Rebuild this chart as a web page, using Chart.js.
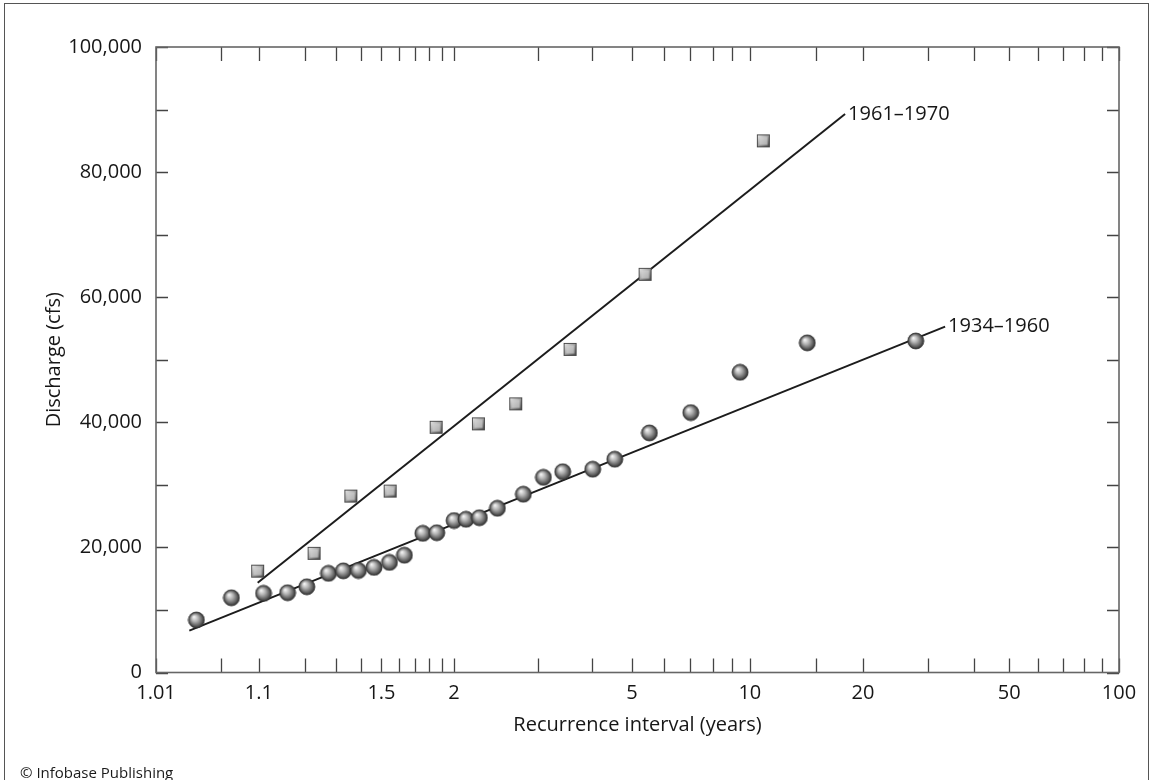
<!DOCTYPE html>
<html><head><meta charset="utf-8">
<script src="https://cdn.jsdelivr.net/npm/chart.js@4.4.1/dist/chart.umd.min.js"></script>
<style>
html,body{margin:0;padding:0;background:#fff;}
#wrap{position:relative;width:1153px;height:780px;overflow:hidden;background:#fff;}
#frame{position:absolute;left:4px;top:3px;width:1145px;height:820px;border:1.5px solid #555;box-sizing:border-box;}
canvas{position:absolute;left:0;top:0;}
#credit{position:absolute;left:20px;top:762px;font:15px 'Open Sans',sans-serif;color:#1a1a1a;line-height:20px;white-space:nowrap;}
</style></head><body>
<div id="wrap"><div id="frame"></div><canvas id="c" width="1153" height="780"></canvas><div id="credit">© Infobase Publishing</div></div>
<script>
// ---- data (recurrence interval in years, discharge in cfs) ----
const xTickYears  = [1.01, 1.1, 1.5, 2, 5, 10, 20, 50, 100];
const xTickLabels = ['1.01', '1.1', '1.5', '2', '5', '10', '20', '50', '100'];
const xMinorYears = [1.05, 1.2, 1.3, 1.4, 1.6, 1.7, 1.8, 1.9, 3, 4, 6, 7, 8, 9, 15, 30, 40, 60, 70, 80, 90];
const yTickValues = [0, 20000, 40000, 60000, 80000, 100000];
const yTickLabels = ['0', '20,000', '40,000', '60,000', '80,000', '100,000'];
const yMinorValues = [10000, 30000, 50000, 70000, 90000];

const years1934 = [1.029, 1.061, 1.108, 1.157, 1.206, 1.273, 1.327, 1.389, 1.462, 1.543, 1.631, 1.754, 1.858, 2.002, 2.112, 2.246, 2.447, 2.782, 3.084, 3.414, 4.016, 4.539, 5.525, 7.03, 9.43, 14.19, 27.8];
const flow1934  = [8400, 11950, 12650, 12750, 13700, 15850, 16250, 16300, 16800, 17600, 18750, 22250, 22350, 24300, 24500, 24750, 26250, 28500, 31200, 32100, 32500, 34100, 38300, 41550, 48000, 52700, 53000];

const years1961 = [1.098, 1.227, 1.357, 1.547, 1.853, 2.236, 2.678, 3.551, 5.39, 10.85];
const flow1961  = [16200, 19050, 28200, 29000, 39200, 39750, 42950, 51650, 63650, 85000];

const fitYears1961 = [1.098, 17.91];
const fitFlow1961  = [14350, 89300];
const fitYears1934 = [1.0245, 33.4];
const fitFlow1934  = [6700, 55300];
const fitLabels = ['1961–1970', '1934–1960'];

const xTitle = 'Recurrence interval (years)';
const yTitle = 'Discharge (cfs)';

// Gumbel (extreme value) probability axis
const gumbel = T => -Math.log(-Math.log(1 - 1 / T));
const pts = (xs, ys) => xs.map((t, i) => ({x: gumbel(t), y: ys[i]}));

// ---- marker images ----
function sphere(d){
  const s = d + 2, c = document.createElement('canvas'); c.width = s; c.height = s;
  const g = c.getContext('2d'), r = d / 2, cx = s / 2, cy = s / 2;
  const grad = g.createRadialGradient(cx - r*0.32, cy - r*0.38, r*0.05, cx, cy, r);
  grad.addColorStop(0, '#f4f4f4'); grad.addColorStop(0.4, '#b0b0b0');
  grad.addColorStop(0.8, '#5c5c5c'); grad.addColorStop(1, '#2a2a2a');
  g.fillStyle = grad; g.beginPath(); g.arc(cx, cy, r, 0, Math.PI*2); g.fill();
  g.lineWidth = 0.8; g.strokeStyle = '#333'; g.stroke();
  return c;
}
function cube(d){
  const s = d + 2, c = document.createElement('canvas'); c.width = s; c.height = s;
  const g = c.getContext('2d'), o = 1;
  const lg = g.createLinearGradient(o, o, o + d, o + d);
  lg.addColorStop(0, '#f2f2f2'); lg.addColorStop(0.5, '#9a9a9a'); lg.addColorStop(1, '#3e3e3e');
  g.fillStyle = lg; g.fillRect(o, o, d, d);
  const i = 2.4, lg2 = g.createLinearGradient(o+i, o+i, o+d-i, o+d-i);
  lg2.addColorStop(0, '#d6d6d6'); lg2.addColorStop(1, '#aeaeae');
  g.fillStyle = lg2; g.fillRect(o+i, o+i, d-2*i, d-2*i);
  g.strokeStyle = '#444'; g.lineWidth = 0.9; g.strokeRect(o+0.45, o+0.45, d-0.9, d-0.9);
  return c;
}
const ballImg = sphere(16), boxImg = cube(13);

const FONT = "'Open Sans', sans-serif";
const INK = '#161616';
Chart.defaults.font.family = FONT;
Chart.defaults.color = INK;

const frameTicks = {
  id: 'frameTicks',
  beforeDatasetsDraw(chart){
    const {ctx, chartArea: a, scales: {x, y}} = chart;
    ctx.save();
    ctx.strokeStyle = '#444'; ctx.lineWidth = 1.3;
    ctx.beginPath();
    xTickYears.concat(xMinorYears).forEach(T => {
      const px = Math.round(x.getPixelForValue(gumbel(T))) + 0.5;
      ctx.moveTo(px, a.bottom); ctx.lineTo(px, a.bottom - 14);
      ctx.moveTo(px, a.top); ctx.lineTo(px, a.top + 14);
    });
    yTickValues.concat(yMinorValues).forEach(v => {
      const py = Math.round(y.getPixelForValue(v)) + 0.5;
      ctx.moveTo(a.left, py); ctx.lineTo(a.left + 12, py);
      ctx.moveTo(a.right, py); ctx.lineTo(a.right - 12, py);
    });
    ctx.stroke();
    ctx.strokeStyle = '#666'; ctx.lineWidth = 1.6;
    ctx.strokeRect(a.left, a.top, a.right - a.left, a.bottom - a.top);
    ctx.restore();
  },
  afterDatasetsDraw(chart){
    const {ctx, scales: {x, y}} = chart;
    ctx.save();
    ctx.font = '20px ' + FONT; ctx.fillStyle = INK;
    ctx.textAlign = 'left'; ctx.textBaseline = 'middle';
    [[fitYears1961, fitFlow1961], [fitYears1934, fitFlow1934]].forEach(([ty, tq], k) => {
      const n = ty.length - 1;
      ctx.fillText(fitLabels[k], x.getPixelForValue(gumbel(ty[n])) + 3, y.getPixelForValue(tq[n]));
    });
    ctx.restore();
  }
};

new Chart(document.getElementById('c'), {
  type: 'scatter',
  data: {
    datasets: [
      {label: '1961–1970', data: pts(years1961, flow1961), pointStyle: boxImg, pointRadius: 7, order: 0},
      {label: '1934–1960', data: pts(years1934, flow1934), pointStyle: ballImg, pointRadius: 8, order: 0},
      {type: 'line', label: 'fit 1961–1970', data: pts(fitYears1961, fitFlow1961), showLine: true,
       borderColor: '#1c1c1c', borderWidth: 2, pointRadius: 0, fill: false, order: 1},
      {type: 'line', label: 'fit 1934–1960', data: pts(fitYears1934, fitFlow1934), showLine: true,
       borderColor: '#1c1c1c', borderWidth: 2, pointRadius: 0, fill: false, order: 1}
    ]
  },
  options: {
    responsive: false, animation: false, devicePixelRatio: 1,
    layout: {padding: {left: 0, top: 47, right: 34, bottom: 0}},
    plugins: {legend: {display: false}, tooltip: {enabled: false}},
    scales: {
      x: {
        type: 'linear', min: gumbel(xTickYears[0]), max: gumbel(xTickYears[xTickYears.length - 1]),
        grid: {display: false, drawTicks: false}, border: {display: false},
        afterBuildTicks: s => { s.ticks = xTickYears.map(t => ({value: gumbel(t)})); },
        afterFit: s => { s.height = 107.5; s.paddingLeft = 0; s.paddingRight = 0; },
        ticks: {autoSkip: false, maxRotation: 0, minRotation: 0, padding: 9, font: {size: 20}, color: INK,
                callback: (v, i) => xTickLabels[i]},
        title: {display: true, text: xTitle, font: {size: 20}, color: INK, padding: {bottom: 43, top: 0}}
      },
      y: {
        type: 'linear', min: 0, max: 100000,
        grid: {display: false, drawTicks: false}, border: {display: false},
        afterBuildTicks: s => { s.ticks = yTickValues.map(v => ({value: v})); },
        afterFit: s => { s.width = 156; s.paddingTop = 0; s.paddingBottom = 0; },
        ticks: {autoSkip: false, padding: 14, font: {size: 20}, color: INK,
                callback: (v, i) => yTickLabels[i]},
        title: {display: true, text: yTitle, font: {size: 20}, color: INK, padding: {top: 42, bottom: 0}}
      }
    }
  },
  plugins: [frameTicks]
});
</script>
</body></html>
